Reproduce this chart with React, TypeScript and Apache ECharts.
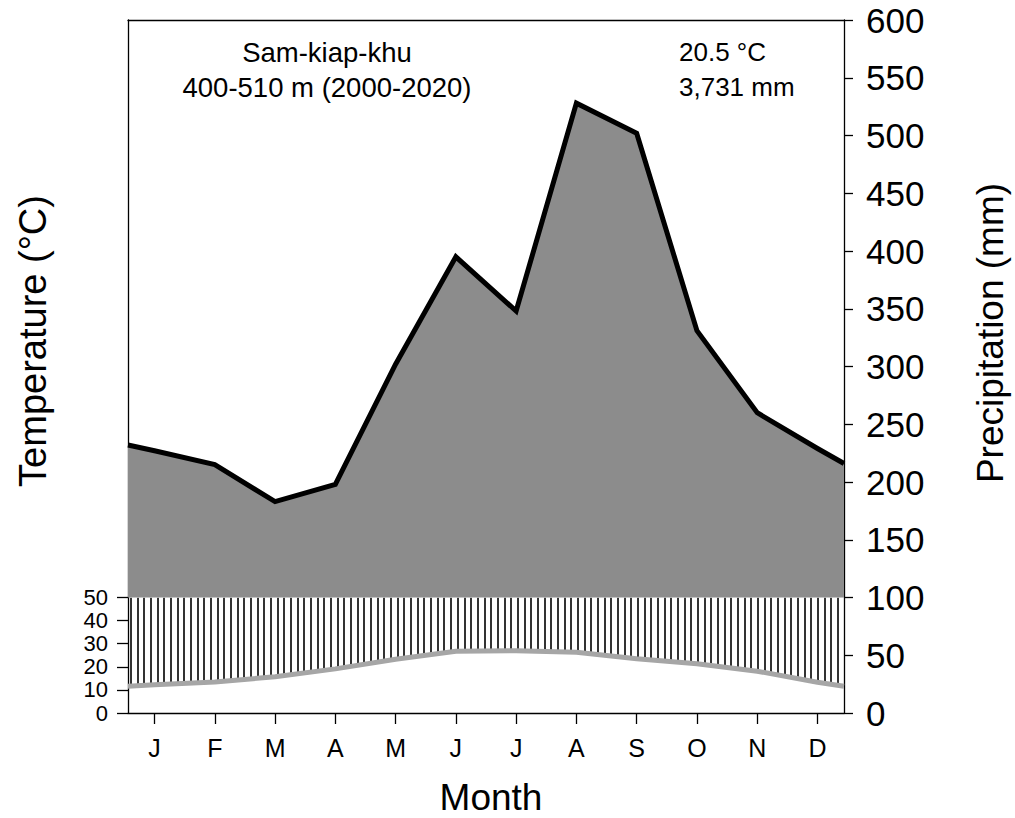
import React, { useEffect, useRef } from "react";
import * as echarts from "echarts";

const MONTHS = ["J", "F", "M", "A", "M", "J", "J", "A", "S", "O", "N", "D"];
const PRECIP = [227, 215, 183, 198, 302, 395, 348, 528, 502, 331, 260, 229];
const PRECIP_EDGES = [232, 216];
const TEMP = [12.2, 13.4, 15.7, 19.1, 23.3, 26.7, 27.0, 26.3, 23.5, 21.3, 18.1, 13.3];
const TEMP_EDGES = [11.6, 11.6];
const STATION = "Sam-kiap-khu";
const SUBTITLE = "400-510 m (2000-2020)";
const MEAN_TEMP = "20.5 °C";
const TOTAL_PRECIP = "3,731 mm";

const X_MIN = -0.44;
const X_MAX = 11.44;
const HATCH_STEP = 6.67;
const FONT = "'Liberation Sans', Arial, Helvetica, sans-serif";

function buildSeries(values: number[], edges: number[]): number[][] {
  const out: number[][] = [[X_MIN, edges[0]]];
  values.forEach((v, i) => out.push([i, v]));
  out.push([X_MAX, edges[1]]);
  return out;
}

function interp(pts: number[][], x: number): number {
  for (let i = 0; i < pts.length - 1; i++) {
    const a = pts[i];
    const b = pts[i + 1];
    if (x >= a[0] && x <= b[0]) {
      const t = (x - a[0]) / (b[0] - a[0]);
      return a[1] + (b[1] - a[1]) * t;
    }
  }
  return pts[pts.length - 1][1];
}

export default function App() {
  const ref = useRef<HTMLDivElement>(null);
  useEffect(() => {
    if (!ref.current) return;
    const chart = echarts.init(ref.current, undefined, { renderer: "svg" });
    const precipPts = buildSeries(PRECIP, PRECIP_EDGES);
    const tempPts = buildSeries(TEMP, TEMP_EDGES);
    const monthIdx = MONTHS.map((_, i) => i);
    const axisLine = { show: true, onZero: false, lineStyle: { color: "#000", width: 1.3 } };

    const option: any = {
      animation: false,
      backgroundColor: "#ffffff",
      textStyle: { fontFamily: FONT },
      grid: [
        { left: 128, right: 171, top: 20, bottom: 105, containLabel: false },
        { left: 128, right: 171, top: 597.5, bottom: 105, containLabel: false },
      ],
      xAxis: [
        {
          type: "value",
          gridIndex: 0,
          min: X_MIN,
          max: X_MAX,
          axisLine,
          axisTick: { show: true, customValues: monthIdx, length: 11, lineStyle: { color: "#000", width: 1.3 } },
          axisLabel: {
            show: true,
            customValues: monthIdx,
            formatter: (v: number) => MONTHS[Math.round(v)] ?? "",
            fontSize: 25,
            color: "#000",
            margin: 22,
            fontFamily: FONT,
          },
          splitLine: { show: false },
        },
        {
          type: "value",
          gridIndex: 0,
          position: "top",
          min: X_MIN,
          max: X_MAX,
          axisLine,
          axisTick: { show: false },
          axisLabel: { show: false },
          splitLine: { show: false },
        },
        {
          type: "value",
          gridIndex: 1,
          min: X_MIN,
          max: X_MAX,
          show: false,
          splitLine: { show: false },
        },
      ],
      yAxis: [
        {
          type: "value",
          gridIndex: 0,
          position: "left",
          min: 0,
          max: 600,
          axisLine,
          axisTick: { show: false },
          axisLabel: { show: false },
          splitLine: { show: false },
        },
        {
          type: "value",
          gridIndex: 0,
          position: "right",
          min: 0,
          max: 600,
          interval: 50,
          axisLine,
          axisTick: { show: true, length: 9, lineStyle: { color: "#000", width: 1.3 } },
          axisLabel: { show: true, fontSize: 35, color: "#000", margin: 22, fontFamily: FONT },
          splitLine: { show: false },
        },
        {
          type: "value",
          gridIndex: 1,
          position: "left",
          min: 0,
          max: 50,
          interval: 10,
          axisLine: { show: false, onZero: false },
          axisTick: { show: true, length: 11, lineStyle: { color: "#000", width: 1.3 } },
          axisLabel: {
            show: true,
            showMinLabel: true,
            showMaxLabel: true,
            fontSize: 22,
            lineHeight: 22,
            color: "#000",
            margin: 20,
            fontFamily: FONT,
          },
          splitLine: { show: false },
        },
      ],
      series: [
        {
          type: "custom",
          xAxisIndex: 2,
          yAxisIndex: 2,
          z: 2,
          silent: true,
          clip: true,
          data: [[0, 0]],
          renderItem: (params: any, api: any) => {
            const cs = params.coordSys;
            const children: any[] = [];
            for (let fx = cs.x + 3; fx < cs.x + cs.width - 1; fx += HATCH_STEP) {
              const px = Math.round(fx);
              const dx = X_MIN + ((px - cs.x) / cs.width) * (X_MAX - X_MIN);
              const t = interp(tempPts, dx);
              const p = interp(precipPts, dx);
              const cap = Math.min(p, 100) / 2;
              if (cap <= t) continue;
              const y1 = api.coord([dx, cap])[1];
              const y2 = api.coord([dx, t])[1];
              children.push({
                type: "line",
                shape: { x1: px, y1, x2: px, y2 },
                style: { stroke: "#333333", lineWidth: 2 },
              });
            }
            return { type: "group", children };
          },
        },
        {
          name: "Precipitation",
          type: "line",
          xAxisIndex: 0,
          yAxisIndex: 1,
          z: 3,
          data: precipPts,
          symbol: "none",
          lineStyle: { color: "#000", width: 5, join: "miter", cap: "butt" },
          areaStyle: { color: "#8c8c8c", opacity: 1, origin: 100 },
        },
        {
          name: "Temperature",
          type: "line",
          xAxisIndex: 2,
          yAxisIndex: 2,
          z: 4,
          data: tempPts,
          symbol: "none",
          lineStyle: { color: "#a6a6a6", width: 5 },
        },
      ],
      graphic: [
        { type: "text", x: 327, y: 52, style: { text: STATION, fontSize: 27.5, fontFamily: FONT, fill: "#000", align: "center", verticalAlign: "middle" } },
        { type: "text", x: 327, y: 87, style: { text: SUBTITLE, fontSize: 27.5, fontFamily: FONT, fill: "#000", align: "center", verticalAlign: "middle" } },
        { type: "text", x: 679, y: 52, style: { text: MEAN_TEMP, fontSize: 26, fontFamily: FONT, fill: "#000", align: "left", verticalAlign: "middle" } },
        { type: "text", x: 679, y: 87, style: { text: TOTAL_PRECIP, fontSize: 26, fontFamily: FONT, fill: "#000", align: "left", verticalAlign: "middle" } },
        { type: "text", x: 491, y: 797, style: { text: "Month", fontSize: 37, fontFamily: FONT, fill: "#000", align: "center", verticalAlign: "middle" } },
        { type: "text", x: 33, y: 341, rotation: Math.PI / 2, style: { text: "Temperature (°C)", fontSize: 38, fontFamily: FONT, fill: "#000", align: "center", verticalAlign: "middle" } },
        { type: "text", x: 990, y: 333, rotation: Math.PI / 2, style: { text: "Precipitation (mm)", fontSize: 37, fontFamily: FONT, fill: "#000", align: "center", verticalAlign: "middle" } },
      ],
    };
    chart.setOption(option);
    return () => chart.dispose();
  }, []);
  return <div ref={ref} style={{ position: "absolute", left: 0, top: 0, width: 1015, height: 818 }} />;
}
